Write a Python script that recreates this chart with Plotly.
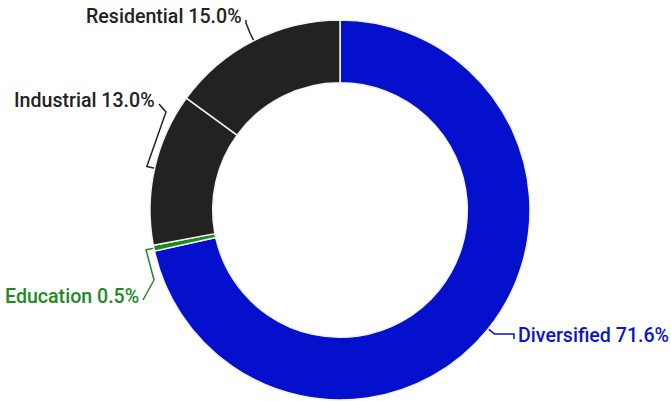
import numpy as np
import plotly.graph_objects as go

# slices, clockwise from 12 o'clock
labels = ["Diversified", "Education", "Industrial", "Residential"]
values = [71.6, 0.5, 13.0, 15.0]
colors = ["#0410cc", "#1e8a1e", "#222222", "#222222"]
text_colors = ["#0a14c8", "#1e8a1e", "#222222", "#222222"]

W, H = 671, 401
cx, cy, R = 340, 210, 190  # px

# label placement (px): elbow point, text anchor
label_pos = {
    "Diversified": dict(elbow=(514, 334), text=(516, 335), anchor="left"),
    "Education": dict(elbow=(154, 280), text=(141, 296), anchor="right"),
    "Industrial": dict(elbow=(166, 112), text=(157, 100), anchor="right"),
    "Residential": dict(elbow=(246, 23), text=(244, 16), anchor="right"),
}

fig = go.Figure()
fig.add_trace(go.Pie(
    labels=labels, values=values, sort=False, direction="clockwise", rotation=0,
    hole=0.67, textinfo="none", hoverinfo="label+percent",
    marker=dict(colors=colors, line=dict(color="#f2f2f2", width=1.5)),
    domain=dict(x=[(cx - R) / W, (cx + R) / W],
                y=[1 - (cy + R) / H, 1 - (cy - R) / H]),
))

total = sum(values)
cum = np.cumsum([0] + values[:-1])
for lab, v, c0, tc in zip(labels, values, cum, text_colors):
    theta = np.radians((c0 + v / 2) / total * 360)
    p0 = (cx + R * np.sin(theta), cy - R * np.cos(theta))
    p1 = (cx + (R + 8) * np.sin(theta), cy - (R + 8) * np.cos(theta))
    lp = label_pos[lab]
    xs = [p0[0], p1[0], lp["elbow"][0], lp["text"][0] + (-2 if lp["anchor"] == "left" else 2)]
    ys = [p0[1], p1[1], lp["elbow"][1], lp["text"][1] + 4]
    fig.add_trace(go.Scatter(x=xs, y=ys, mode="lines", line=dict(color=tc, width=1.5),
                             hoverinfo="skip"))
    fig.add_annotation(x=lp["text"][0], y=lp["text"][1], xref="x", yref="y",
                       text=f"{lab} {v:.1f}%", showarrow=False, xanchor=lp["anchor"],
                       yanchor="middle",
                       font=dict(family="Roboto", size=19.6, weight=500, color=tc))

fig.update_layout(
    width=W, height=H, margin=dict(l=0, r=0, t=0, b=0), showlegend=False,
    paper_bgcolor="white", plot_bgcolor="rgba(0,0,0,0)",
    xaxis=dict(range=[0, W], visible=False, domain=[0, 1]),
    yaxis=dict(range=[H, 0], visible=False, domain=[0, 1]),
)
fig.write_html("out.html", config={"displayModeBar": False},
               post_script="document.body.style.margin='0';")
